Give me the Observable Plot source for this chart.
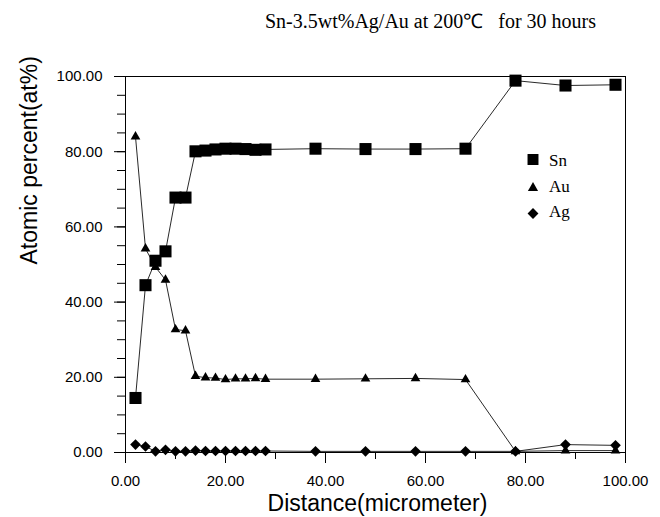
<!DOCTYPE html>
<html>
<head>
<meta charset="utf-8">
<script src="https://cdn.jsdelivr.net/npm/d3@7"></script>
<script src="https://cdn.jsdelivr.net/npm/@observablehq/plot@0.6"></script>
<style>
  body { margin: 0; background: #fff; }
  #wrap { position: relative; width: 660px; height: 517px; }
  #legend { position: absolute; left: 0; top: 0; }
</style>
</head>
<body>
<div id="wrap"></div>
<script>
const titleText = "Sn-3.5wt%Ag/Au at 200\u2103\u00a0\u00a0\u00a0for 30 hours";
const xLabel = "Distance(micrometer)";
const yLabel = "Atomic percent(at%)";

const distance = [2,4,6,8,10,12,14,16,18,20,22,24,26,28,38,48,58,68,78,88,98];
const sn = [14.5,44.5,51,53.5,67.8,67.8,80.1,80.3,80.6,80.8,80.8,80.7,80.5,80.6,80.8,80.7,80.7,80.8,98.9,97.6,97.8];
const au = [84,54.2,49.3,45.9,32.7,32.4,20.3,19.9,19.8,19.4,19.6,19.6,19.7,19.5,19.5,19.6,19.7,19.4,0.3,0.5,0.5];
const ag = [2.1,1.6,0.3,0.7,0.3,0.3,0.5,0.4,0.4,0.4,0.4,0.4,0.4,0.4,0.3,0.3,0.3,0.3,0.3,2.1,1.9];
const seriesNames = ["Sn","Au","Ag"];

const xMajorTicks = [0,20,40,60,80,100];
const xMinorTicks = [0,10,20,30,40,50,60,70,80,90,100];
const yMajorTicks = [0,20,40,60,80,100];
const yMinorTicks = [0,5,10,15,20,25,30,35,40,45,50,55,60,65,70,75,80,85,90,95,100];

const valuesBySeries = {Sn: sn, Au: au, Ag: ag};
const rows = seriesNames.flatMap(s => distance.map((d, i) => ({series: s, x: d, y: valuesBySeries[s][i]})));
const fmt = d => d.toFixed(2);
const sans = "Liberation Sans, Arial, sans-serif";
const serif = "Liberation Serif, Times New Roman, serif";

const chart = Plot.plot({
  width: 660, height: 517,
  marginTop: 76, marginLeft: 125, marginRight: 35, marginBottom: 65,
  style: {fontFamily: sans, fontSize: "15px", color: "#000", background: "#fff"},
  x: {domain: [0, 100]},
  y: {domain: [0, 100]},
  marks: [
    Plot.frame({stroke: "#000", strokeWidth: 1}),
    Plot.axisY(yMinorTicks, {tickSize: 8, tickFormat: () => "", label: null}),
    Plot.axisY(yMajorTicks, {tickSize: 11, tickPadding: 12, tickFormat: fmt, label: null, fontSize: 15}),
    Plot.axisX(xMinorTicks, {tickSize: 7, tickFormat: () => "", label: null}),
    Plot.axisX(xMajorTicks, {tickSize: 11, tickPadding: 12, tickFormat: fmt, label: null, fontSize: 15}),
    Plot.line(rows, {x: "x", y: "y", z: "series", stroke: "#111", strokeWidth: 0.9}),
    Plot.dot(rows.filter(d => d.series === "Ag"), {x: "x", y: "y", symbol: "diamond2", r: 4.8, fill: "#000", stroke: "none"}),
    Plot.dot(rows.filter(d => d.series === "Au"), {x: "x", y: "y", symbol: "triangle", r: 3.6, fill: "#000", stroke: "none"}),
    Plot.dot(rows.filter(d => d.series === "Sn"), {x: "x", y: "y", symbol: "square", r: 6.8, fill: "#000", stroke: "none"}),
    Plot.text([titleText], {frameAnchor: "top", dx: 55, dy: -55, lineAnchor: "middle", fontFamily: serif, fontSize: 20}),
    Plot.text([xLabel], {frameAnchor: "bottom", dx: 2, dy: 51.6, lineAnchor: "middle", fontFamily: sans, fontSize: 23}),
    Plot.text([yLabel], {frameAnchor: "left", dx: -95.4, rotate: -90, lineAnchor: "middle", fontFamily: sans, fontSize: 23})
  ]
});
document.getElementById("wrap").appendChild(chart);

// Legend overlay
const legendItems = [
  {name: "Sn", symbol: d3.symbolSquare, size: 120, cy: 159.5, ty: 166},
  {name: "Au", symbol: d3.symbolTriangle, size: 45, cy: 188, ty: 192},
  {name: "Ag", symbol: d3.symbolDiamond2, size: 75, cy: 213.5, ty: 217}
];
const leg = d3.select("#wrap").append("svg").attr("id", "legend").attr("width", 660).attr("height", 517)
  .style("pointer-events", "none");
leg.selectAll("path").data(legendItems).join("path")
  .attr("transform", d => `translate(533,${d.cy})`)
  .attr("d", d => d3.symbol(d.symbol, d.size)())
  .attr("fill", "#000");
leg.selectAll("text").data(legendItems).join("text")
  .attr("x", 549).attr("y", d => d.ty)
  .attr("font-family", serif).attr("font-size", 17)
  .text(d => d.name);
</script>
</body>
</html>
